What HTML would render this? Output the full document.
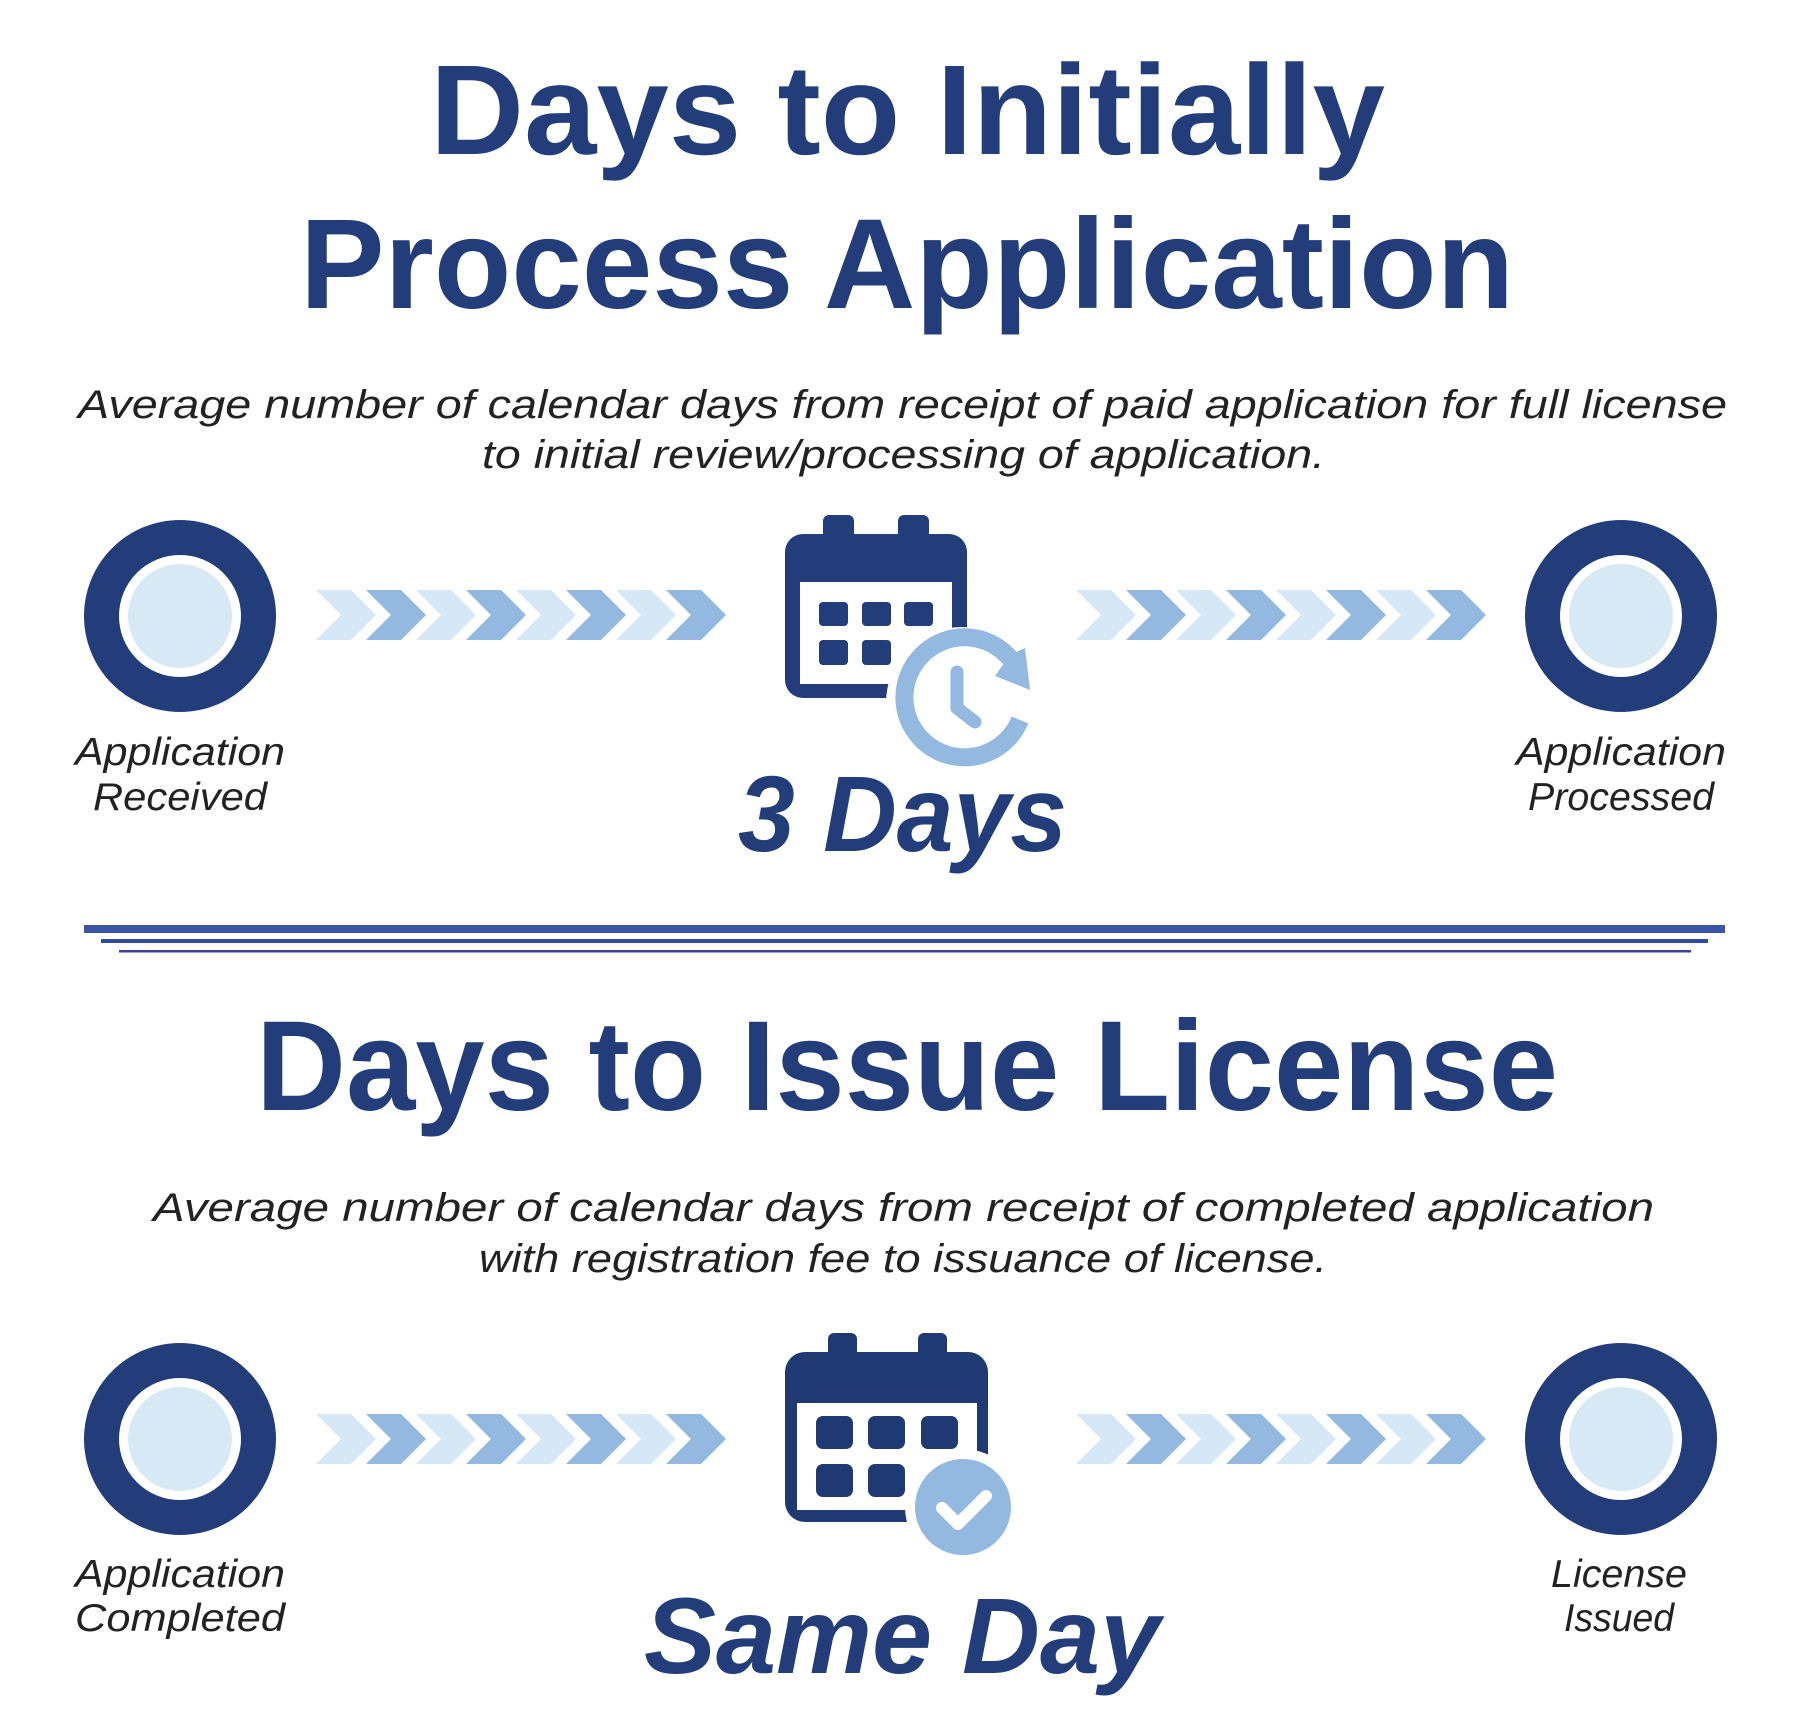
<!DOCTYPE html>
<html><head><meta charset="utf-8"><style>
html,body{margin:0;padding:0;background:#fff;}
svg{display:block;}
.t{font-family:"Liberation Sans",sans-serif;font-weight:bold;fill:#233d7b;}
.s{font-family:"Liberation Sans",sans-serif;font-style:italic;fill:#222;}
</style></head><body>
<svg width="1800" height="1730" viewBox="0 0 1800 1730" xmlns="http://www.w3.org/2000/svg">
<defs>
<g id="chev">
 <polygon points="0,0 35,0 60,25 35,50 0,50 25,25" fill="#d6e8f6"/>
 <polygon points="50,0 85,0 110,25 85,50 50,50 75,25" fill="#93b9e0"/>
</g>
<g id="chevs">
 <use href="#chev" x="0"/><use href="#chev" x="100"/><use href="#chev" x="200"/><use href="#chev" x="300"/>
</g>
<g id="ring">
 <circle r="96" fill="#233d7b"/>
 <circle r="61" fill="#fff"/>
 <circle r="52" fill="#d8e9f6"/>
</g>
</defs>

<text class="t" x="430" y="154" font-size="128" textLength="955" lengthAdjust="spacingAndGlyphs">Days to Initially</text>
<text class="t" x="300" y="308" font-size="128" textLength="1214" lengthAdjust="spacingAndGlyphs">Process Application</text>

<text class="s" x="78" y="418" font-size="40" textLength="1649" lengthAdjust="spacingAndGlyphs">Average number of calendar days from receipt of paid application for full license</text>
<text class="s" x="482" y="468" font-size="40" textLength="843" lengthAdjust="spacingAndGlyphs">to initial review/processing of application.</text>

<use href="#ring" x="180" y="616"/>
<use href="#ring" x="1621" y="616"/>
<text class="s" x="75" y="765" font-size="39" textLength="210" lengthAdjust="spacingAndGlyphs">Application</text>
<text class="s" x="93" y="810" font-size="39" textLength="174" lengthAdjust="spacingAndGlyphs">Received</text>
<text class="s" x="1516" y="765" font-size="39" textLength="210" lengthAdjust="spacingAndGlyphs">Application</text>
<text class="s" x="1528" y="810" font-size="39" textLength="186" lengthAdjust="spacingAndGlyphs">Processed</text>

<use href="#chevs" x="316" y="590"/>
<use href="#chevs" x="1076" y="590"/>

<!-- calendar 1 -->
<g fill="#233d7b">
 <rect x="823" y="515" width="31" height="30" rx="6"/>
 <rect x="898" y="515" width="31" height="30" rx="6"/>
 <path d="M785,552 a18,18 0 0 1 18,-18 h146 a18,18 0 0 1 18,18 V680 a18,18 0 0 1 -18,18 H803 a18,18 0 0 1 -18,-18 Z"/>
 <rect x="800" y="582" width="152" height="102" fill="#fff"/>
 <rect x="819" y="602" width="29" height="24" rx="4"/>
 <rect x="862" y="602" width="29" height="24" rx="4"/>
 <rect x="904" y="602" width="29" height="24" rx="4"/>
 <rect x="819" y="640" width="29" height="25" rx="4"/>
 <rect x="862" y="640" width="29" height="25" rx="4"/>
</g>
<circle cx="962" cy="703" r="76" fill="#fff"/>
<path d="M1015,665 A60,60 0 1 0 1020,720" fill="none" stroke="#93b9e0" stroke-width="18"/>
<polygon points="1010,655 1025,648 1030,690 995,676" fill="#93b9e0"/>
<path d="M957,672 V708 L975,722" fill="none" stroke="#93b9e0" stroke-width="13" stroke-linecap="round" stroke-linejoin="round"/>

<text class="t" x="738" y="851" font-size="108" font-style="italic" textLength="329" lengthAdjust="spacingAndGlyphs">3 Days</text>

<rect x="84" y="925" width="1641" height="8" fill="#3a55a5"/>
<rect x="101" y="939" width="1607" height="4" fill="#2f4a9e"/>
<rect x="119" y="950" width="1572" height="2.5" fill="#3b3f98"/>

<text class="t" x="256" y="1110" font-size="128" textLength="1302" lengthAdjust="spacingAndGlyphs">Days to Issue License</text>

<text class="s" x="153" y="1221" font-size="40" textLength="1501" lengthAdjust="spacingAndGlyphs">Average number of calendar days from receipt of completed application</text>
<text class="s" x="479" y="1272" font-size="40" textLength="848" lengthAdjust="spacingAndGlyphs">with registration fee to issuance of license.</text>

<use href="#ring" x="180" y="1439"/>
<use href="#ring" x="1621" y="1439"/>
<text class="s" x="75" y="1587" font-size="39" textLength="210" lengthAdjust="spacingAndGlyphs">Application</text>
<text class="s" x="75" y="1631" font-size="39" textLength="210" lengthAdjust="spacingAndGlyphs">Completed</text>
<text class="s" x="1551" y="1587" font-size="39" textLength="136" lengthAdjust="spacingAndGlyphs">License</text>
<text class="s" x="1564" y="1631" font-size="39" textLength="110" lengthAdjust="spacingAndGlyphs">Issued</text>

<use href="#chevs" x="316" y="1414"/>
<use href="#chevs" x="1076" y="1414"/>

<!-- calendar 2 -->
<g fill="#1f3a72">
 <rect x="828" y="1333" width="29" height="30" rx="6"/>
 <rect x="918" y="1333" width="29" height="30" rx="6"/>
 <path d="M785,1372 a20,20 0 0 1 20,-20 h163 a20,20 0 0 1 20,20 V1502 a20,20 0 0 1 -20,20 H805 a20,20 0 0 1 -20,-20 Z"/>
 <rect x="797" y="1403" width="180" height="107" fill="#fff"/>
 <rect x="816" y="1416" width="37" height="33" rx="7"/>
 <rect x="868" y="1416" width="37" height="33" rx="7"/>
 <rect x="921" y="1416" width="37" height="33" rx="7"/>
 <rect x="816" y="1464" width="37" height="33" rx="7"/>
 <rect x="868" y="1464" width="37" height="33" rx="7"/>
</g>
<circle cx="963" cy="1507" r="58" fill="#fff"/>
<circle cx="963" cy="1507" r="48" fill="#93b9e0"/>
<path d="M942,1508 L958,1524 L986,1496" fill="none" stroke="#fff" stroke-width="12" stroke-linecap="round" stroke-linejoin="round"/>

<text class="t" x="644" y="1673" font-size="108" font-style="italic" textLength="516" lengthAdjust="spacingAndGlyphs">Same Day</text>
</svg>
</body></html>
